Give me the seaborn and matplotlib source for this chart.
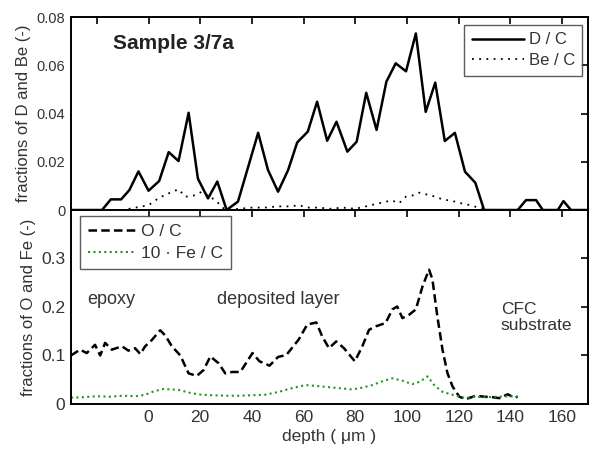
import matplotlib
matplotlib.use("Agg")
import matplotlib.pyplot as plt
import seaborn as sns
import pandas as pd

sns.set_theme(style="white")
plt.rcParams['font.family'] = ['Liberation Sans', 'DejaVu Sans']

# ---- data ----
dc_depth = [-30, -18, -14.6, -10.6, -7.4, -3.9, 0, 4.1, 7.8, 11.6, 15.5, 19.1, 23, 26.6,
            30.2, 34.6, 42.4, 46.2, 50.1, 54, 57.5, 61.6, 65.2, 69.1, 72.7, 76.9, 80.5,
            84.2, 88.2, 92, 95.6, 99.6, 103.4, 107.2, 110.9, 114.6, 118.5, 122.4, 126.4,
            129.8, 142.8, 146, 149.9, 152.5, 158.3, 160.5, 163.4, 170]
dc_frac = [0, 0, 0.0044, 0.0044, 0.0083, 0.016, 0.008, 0.012, 0.024, 0.0203, 0.0403,
           0.013, 0.0048, 0.0118, 0, 0.0035, 0.032, 0.0166, 0.0076, 0.0166, 0.028, 0.0325,
           0.0449, 0.0287, 0.0366, 0.0242, 0.0283, 0.0486, 0.0332, 0.0532, 0.0608, 0.0575,
           0.0732, 0.0407, 0.0528, 0.0286, 0.032, 0.0159, 0.0113, 0, 0, 0.0041, 0.0041,
           0, 0, 0.0037, 0, 0]

be_depth = [-30, -20, -10, 0, 4, 8, 11.6, 14.2, 17.5, 20.7, 23, 25.8, 29.7, 35, 40, 45,
            50, 55, 58, 62, 66, 70, 75, 80, 84, 88, 91.7, 94, 96.9, 99.5, 102, 104.7,
            108.5, 111, 113.7, 116, 118.9, 121, 124, 127, 129.2, 132, 136, 140, 145]
be_frac = [0, 0, 0, 0.002, 0.005, 0.007, 0.0086, 0.0055, 0.006, 0.0076, 0.006, 0.0041,
           0, 0.0005, 0.001, 0.001, 0.0015, 0.0015, 0.002, 0.001, 0.001, 0.0005, 0.001,
           0.0005, 0.0015, 0.0025, 0.0034, 0.004, 0.0028, 0.0055, 0.006, 0.0072, 0.0062,
           0.0055, 0.0044, 0.004, 0.0034, 0.0028, 0.0021, 0.0012, 0.0007, 0, 0, 0, 0]

oc_depth = [-30, -26.5, -23.9, -20.7, -18.7, -16.8, -14.2, -10.3, -7.8, -5.2, -3.2, -1.3,
            1.3, 4.5, 6.5, 9, 12.3, 15.5, 18.7, 21.3, 23.9, 27.1, 29.7, 32.3, 35.5, 40.2,
            42.9, 46.8, 50.1, 53.3, 58.1, 61.4, 64.9, 67.2, 69.8, 72.6, 75.6, 79.8, 82.7,
            85.3, 87.9, 91.7, 94.3, 96.2, 98.2, 100.8, 103.4, 106, 108.5, 109.8, 111.7,
            113.7, 115.6, 117.6, 120.2, 122.7, 126.6, 129.8, 133.1, 135.7, 138.9, 141.5,
            142.8]
oc_frac = [0.1, 0.112, 0.105, 0.122, 0.1, 0.126, 0.112, 0.119, 0.11, 0.115, 0.103, 0.119,
           0.132, 0.152, 0.141, 0.119, 0.1, 0.063, 0.058, 0.07, 0.098, 0.084, 0.063, 0.066,
           0.066, 0.105, 0.088, 0.079, 0.097, 0.101, 0.133, 0.164, 0.168, 0.139, 0.115,
           0.129, 0.115, 0.088, 0.119, 0.153, 0.16, 0.167, 0.195, 0.201, 0.177, 0.184,
           0.195, 0.243, 0.277, 0.257, 0.181, 0.112, 0.064, 0.036, 0.015, 0.01, 0.017,
           0.015, 0.014, 0.012, 0.02, 0.013, 0.015]

fe_depth = [-30, -25, -20, -15, -10, -5, -1.3, 2, 5.8, 11.6, 16.8, 20.7, 25, 30, 35, 40,
            45, 50.4, 55, 60.7, 67.2, 73, 78.8, 82, 86.6, 90, 94.3, 98.2, 102, 105,
            107.9, 110.5, 113.7, 118.9, 122.7, 126, 130, 135, 140, 143.4]
fe_frac = [0.013, 0.014, 0.016, 0.015, 0.017, 0.016, 0.019, 0.026, 0.031, 0.029, 0.022,
           0.019, 0.018, 0.017, 0.017, 0.018, 0.019, 0.025, 0.032, 0.039, 0.036, 0.033,
           0.03, 0.033, 0.039, 0.046, 0.053, 0.048, 0.041, 0.046, 0.057, 0.039, 0.025,
           0.017, 0.012, 0.015, 0.014, 0.015, 0.016, 0.015]

top_yticks = [0, 0.02, 0.04, 0.06, 0.08]
top_yticklabels = ["0", "0.02", "0.04", "0.06", "0.08"]
bot_yticks = [0, 0.1, 0.2, 0.3]
bot_yticklabels = ["0", "0.1", "0.2", "0.3"]
top_xticks = [-20, 0, 20, 40, 60, 80, 100, 120, 140, 160]
bot_xticks = [0, 20, 40, 60, 80, 100, 120, 140, 160]

df_dc = pd.DataFrame({"depth": dc_depth, "frac": dc_frac})
df_be = pd.DataFrame({"depth": be_depth, "frac": be_frac})
df_oc = pd.DataFrame({"depth": oc_depth, "frac": oc_frac})
df_fe = pd.DataFrame({"depth": fe_depth, "frac": fe_frac})

fig = plt.figure(figsize=(5.95, 4.53), dpi=100)
ax1 = fig.add_axes([0.1193, 0.5364, 0.869, 0.426])
ax2 = fig.add_axes([0.1193, 0.1082, 0.869, 0.4283])

tc = "#333333"

sns.lineplot(data=df_dc, x="depth", y="frac", ax=ax1, color="black", lw=1.8,
             label="D / C", sort=False)
sns.lineplot(data=df_be, x="depth", y="frac", ax=ax1, color="black", lw=1.3,
             linestyle=(0, (1, 3)), label="Be / C", sort=False)

sns.lineplot(data=df_oc, x="depth", y="frac", ax=ax2, color="black", lw=1.8,
             linestyle=(0, (3.4, 1.7)), label="O / C", sort=False)
sns.lineplot(data=df_fe, x="depth", y="frac", ax=ax2, color="#1e9a1e", lw=1.5,
             linestyle=(0, (1, 1.6)), label="10 · Fe / C", sort=False)

for ax in (ax1, ax2):
    ax.set_xlim(-30, 170)
    for s in ax.spines.values():
        s.set_color("black")
        s.set_linewidth(1.4)
    ax.tick_params(direction="in", length=5, width=1.2, top=True, right=True,
                   labelcolor=tc, color="black", pad=4)

ax1.tick_params(labelsize=10.5)
ax2.tick_params(labelsize=12.5)

ax1.set_ylim(0, 0.08)
ax1.set_yticks(top_yticks)
ax1.set_yticklabels(top_yticklabels)
ax1.set_xticks(top_xticks)
ax1.set_xticklabels([])
ax1.set_xlabel("")
ax1.set_ylabel("fractions of D and Be (-)", fontsize=12, color=tc, labelpad=4)

ax2.set_ylim(0, 0.4)
ax2.set_yticks(bot_yticks)
ax2.set_yticklabels(bot_yticklabels)
ax2.set_xticks(bot_xticks)
ax2.set_xlabel("depth ( μm )", fontsize=12.5, color=tc, labelpad=3)
ax2.set_ylabel("fractions of O and Fe (-)", fontsize=12, color=tc, labelpad=4)

leg1 = ax1.legend(loc="upper right", bbox_to_anchor=(0.989, 0.959), fontsize=12,
                  frameon=True, fancybox=False, edgecolor="#333333", handlelength=3.1,
                  handletextpad=0.3, borderpad=0.45, labelspacing=0.35, borderaxespad=0)
leg1.get_frame().set_linewidth(1.0)
for t in leg1.get_texts():
    t.set_color(tc)
leg2 = ax2.legend(loc="upper left", bbox_to_anchor=(0.0174, 0.969), fontsize=12.5,
                  frameon=True, fancybox=False, edgecolor="#333333", handlelength=2.8,
                  handletextpad=0.25, borderpad=0.45, labelspacing=0.4, borderaxespad=0)
leg2.get_frame().set_linewidth(1.0)
for t in leg2.get_texts():
    t.set_color(tc)

ax1.text(0.081, 0.865, "Sample 3/7a", transform=ax1.transAxes, fontsize=15,
         fontweight="bold", color="#222222", va="center", ha="left")
ax2.text(-14.3, 0.215, "epoxy", fontsize=13, color=tc, ha="center", va="center")
ax2.text(50, 0.215, "deposited layer", fontsize=13, color=tc, ha="center", va="center")
ax2.text(136.3, 0.178, "CFC\nsubstrate", fontsize=12.5, color=tc, ha="left", va="center",
         linespacing=1.05)

fig.savefig("out.png", dpi=100)
